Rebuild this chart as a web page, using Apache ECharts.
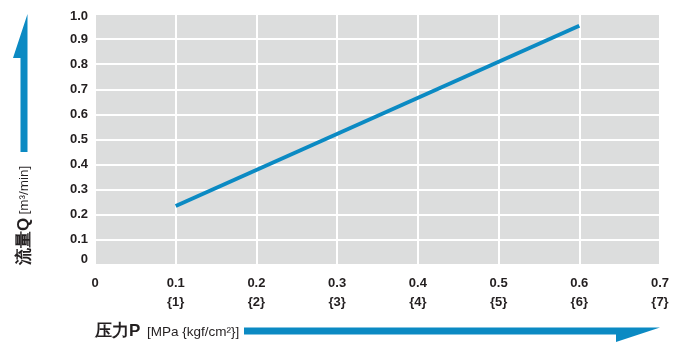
<!DOCTYPE html>
<html><head><meta charset="utf-8">
<script src="https://cdn.jsdelivr.net/npm/echarts@6/dist/echarts.min.js"></script>
<style>html,body{margin:0;padding:0;background:#fff}#c{width:691px;height:343px}</style>
</head><body><div id="c"></div>
<script>
// data
const xTicks = [0, 0.1, 0.2, 0.3, 0.4, 0.5, 0.6, 0.7];
const xSubLabels = ['', '{1}', '{2}', '{3}', '{4}', '{5}', '{6}', '{7}'];
const yTicks = [0, 0.1, 0.2, 0.3, 0.4, 0.5, 0.6, 0.7, 0.8, 0.9, 1.0];
const pressure = [0.1, 0.6];
const flow = [0.235, 0.953];
const yName = '流量Q';
const yUnit = '[m³/min]';
const xName = '压力P';
const xUnit = '[MPa {kgf/cm²}]';

const FONT = "'Liberation Sans Narrow','Liberation Sans',Arial,sans-serif";
const BLUE = '#0b8ac3';
const TXT = '#231f20';

const chart = echarts.init(document.getElementById('c'), null, {renderer: 'canvas'});
chart.setOption({
  animation: false,
  grid: {left: 95, right: 31, top: 14, bottom: 78, show: true, backgroundColor: '#dcdddd', borderWidth: 0},
  xAxis: {
    type: 'value', min: xTicks[0], max: xTicks[xTicks.length - 1], interval: 0.1,
    axisLine: {show: false}, axisTick: {show: false},
    splitLine: {show: true, lineStyle: {color: '#fff', width: 2}},
    axisLabel: {
      margin: 9, color: TXT, fontFamily: FONT, fontWeight: 'bold', fontSize: 13, lineHeight: 19,
      verticalAlign: 'top',
      formatter: function (v) {
        const i = xTicks.findIndex(t => Math.abs(t - v) < 1e-6);
        if (i <= 0) return '0';
        return xTicks[i].toFixed(1) + '\n' + xSubLabels[i];
      }
    }
  },
  yAxis: {
    type: 'value', min: yTicks[0], max: yTicks[yTicks.length - 1], interval: 0.1,
    axisLine: {show: false}, axisTick: {show: false},
    splitLine: {show: true, lineStyle: {color: '#fff', width: 2}},
    axisLabel: {
      margin: 7, color: TXT, fontFamily: FONT, fontWeight: 'bold', fontSize: 13,
      formatter: function (v) {
        if (Math.abs(v) < 1e-6) return '{z|0}';
        if (Math.abs(v - 1) < 1e-6) return '{t|1.0}';
        return v.toFixed(1);
      },
      rich: {
        z: {fontFamily: FONT, fontWeight: 'bold', fontSize: 13, color: TXT, padding: [0, 0, 12, 0]},
        t: {fontFamily: FONT, fontWeight: 'bold', fontSize: 13, color: TXT, padding: [4, 0, 0, 0]}
      }
    }
  },
  series: [{
    type: 'line',
    data: pressure.map((p, i) => [p, flow[i]]),
    showSymbol: false, symbol: 'none',
    lineStyle: {color: BLUE, width: 4, cap: 'butt'}
  }],
  graphic: [
    {type: 'polygon', shape: {points: [[20.5, 152], [20.5, 58], [13, 58], [27.5, 14], [27.5, 152]]}, style: {fill: BLUE}},
    {type: 'polygon', shape: {points: [[244, 327.5], [660, 327.5], [616, 342], [616, 334.5], [244, 334.5]]}, style: {fill: BLUE}},
    {type: 'text', x: 24, y: 265, rotation: Math.PI / 2,
      style: {text: '{a|' + yName + '} {b|' + yUnit + '}', align: 'left', verticalAlign: 'middle',
        rich: {a: {fontFamily: FONT, fontSize: 17, fill: TXT, fontWeight: 'bold'}, b: {fontFamily: FONT, fontSize: 13.5, fill: TXT}}}},
    {type: 'text', x: 95, y: 331,
      style: {text: xName, fontFamily: FONT, fontSize: 17, fill: TXT, fontWeight: 'bold', align: 'left', verticalAlign: 'middle'}},
    {type: 'text', x: 147, y: 332,
      style: {text: xUnit, fontFamily: FONT, fontSize: 13.5, fill: TXT, align: 'left', verticalAlign: 'middle'}}
  ]
});
</script></body></html>
